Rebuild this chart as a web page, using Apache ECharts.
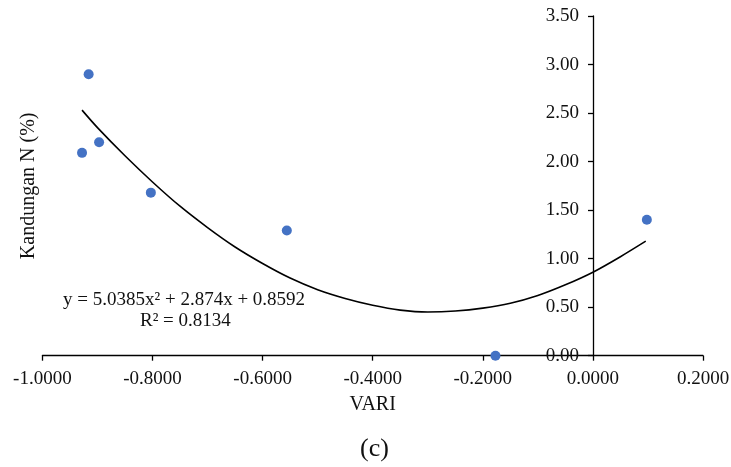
<!DOCTYPE html>
<html>
<head>
<meta charset="utf-8">
<script src="https://cdn.jsdelivr.net/npm/echarts@6/dist/echarts.min.js"></script>
<style>
  html, body { margin: 0; padding: 0; background: #fff; }
  #chart { width: 731px; height: 467px; }
</style>
</head>
<body>
<div id="chart"></div>
<script>
// observed points (VARI vs Kandungan N)
const variValues = [-0.916, -0.928, -0.897, -0.803, -0.556, -0.177, 0.098]
const nitrogenValues = [2.90, 2.09, 2.20, 1.68, 1.29, 0.00, 1.40]

// trend line
const trendX = [-0.928, -0.9, -0.85, -0.8, -0.75, -0.7, -0.65, -0.6, -0.55, -0.5, -0.45, -0.4, -0.35, -0.3, -0.25, -0.2, -0.15, -0.1, -0.05, 0.0, 0.05, 0.096]
const trendY = [2.53, 2.35, 2.06, 1.79, 1.54, 1.32, 1.12, 0.95, 0.80, 0.68, 0.59, 0.52, 0.47, 0.45, 0.46, 0.49, 0.54, 0.62, 0.73, 0.86, 1.02, 1.18]

const equationText = 'y = 5.0385x² + 2.874x + 0.8592'
const rSquaredText = 'R² = 0.8134'

const font = 'Liberation Serif'

let chart = echarts.init(document.getElementById('chart'))

const option = {
  animation: false,
  backgroundColor: '#fff',
  grid: {
    left: 42.4,
    right: 28,
    top: 16,
    bottom: 111.3,
    containLabel: false,
    outerBoundsMode: 'none'
  },
  xAxis: {
    type: 'value',
    min: -1,
    max: 0.2,
    interval: 0.2,
    name: 'VARI',
    nameLocation: 'middle',
    nameGap: 39,
    nameTextStyle: { fontFamily: font, fontSize: 20, color: '#111' },
    splitLine: { show: false },
    axisLine: { onZero: false, lineStyle: { color: '#000', width: 1.3 } },
    axisTick: { show: true, length: 5, lineStyle: { color: '#000', width: 1.3 } },
    axisLabel: {
      margin: 14,
      fontFamily: font,
      fontSize: 19,
      color: '#111',
      formatter: v => v.toFixed(4)
    }
  },
  yAxis: {
    type: 'value',
    min: 0,
    max: 3.5,
    interval: 0.5,
    position: 'left',
    offset: -550.6,
    name: 'Kandungan N (%)',
    nameLocation: 'middle',
    nameGap: 554,
    nameTextStyle: { fontFamily: font, fontSize: 20, color: '#111' },
    splitLine: { show: false },
    axisLine: { show: true, onZero: false, lineStyle: { color: '#000', width: 1.3 } },
    axisTick: { show: true, length: 5, lineStyle: { color: '#000', width: 1.3 } },
    axisLabel: {
      margin: 14,
      fontFamily: font,
      fontSize: 19,
      color: '#111',
      formatter: v => v.toFixed(2)
    }
  },
  series: [
    {
      type: 'line',
      data: trendX.map((x, i) => [x, trendY[i]]),
      smooth: 0.3,
      showSymbol: false,
      lineStyle: { color: '#000', width: 1.6 },
      z: 2
    },
    {
      type: 'scatter',
      data: variValues.map((x, i) => [x, nitrogenValues[i]]),
      symbolSize: 10,
      itemStyle: { color: '#4472C4', opacity: 1 },
      z: 3
    }
  ],
  graphic: [
    {
      type: 'text',
      left: 185 - 122,
      top: 291,
      style: { text: equationText, font: '19px "Liberation Serif"', fill: '#111' }
    },
    {
      type: 'text',
      left: 140,
      top: 312,
      style: { text: rSquaredText, font: '19px "Liberation Serif"', fill: '#111' }
    },
    {
      type: 'text',
      left: 360,
      top: 436,
      style: { text: '(c)', font: '26px "Liberation Serif"', fill: '#111' }
    }
  ]
}

chart.setOption(option)
</script>
</body>
</html>
